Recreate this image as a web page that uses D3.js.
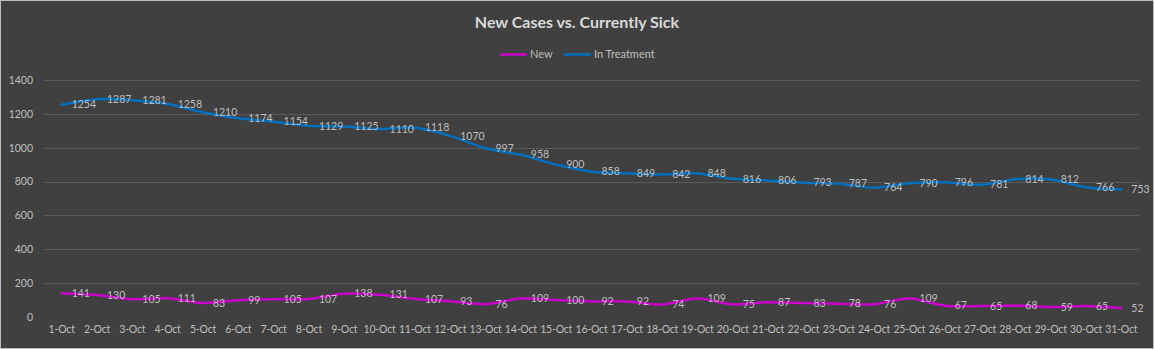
<!DOCTYPE html>
<html>
<head>
<meta charset="utf-8">
<script src="https://cdn.jsdelivr.net/npm/d3@7"></script>
<style>
  html, body { margin: 0; padding: 0; background: #404040; }
  svg { display: block; }
  text { font-family: Lato, "Liberation Sans", sans-serif; }
</style>
</head>
<body>
<svg id="chart" width="1154" height="349"></svg>
<script>
const categories = ["1-Oct","2-Oct","3-Oct","4-Oct","5-Oct","6-Oct","7-Oct","8-Oct","9-Oct","10-Oct","11-Oct","12-Oct","13-Oct","14-Oct","15-Oct","16-Oct","17-Oct","18-Oct","19-Oct","20-Oct","21-Oct","22-Oct","23-Oct","24-Oct","25-Oct","26-Oct","27-Oct","28-Oct","29-Oct","30-Oct","31-Oct"];
const newCases = [141,130,105,111,83,99,105,107,138,131,107,93,76,109,100,92,92,74,109,75,87,83,78,76,109,67,65,68,59,65,52];
const inTreatment = [1254,1287,1281,1258,1210,1174,1154,1129,1125,1110,1118,1070,997,958,900,858,849,842,848,816,806,793,787,764,790,796,781,814,812,766,753];
const yTicks = [0,200,400,600,800,1000,1200,1400];
const seriesNames = ["New","In Treatment"];
const seriesColors = ["#cc00cc","#0070c0"];
const title = "New Cases vs. Currently Sick";

const W = 1154, H = 349;
const plot = {left: 44, right: 1139, top: 80, bottom: 317};
const FONT = "Lato, 'Liberation Sans', sans-serif";

const svg = d3.select("#chart");
svg.append("rect").attr("x",0.5).attr("y",0.5).attr("width",W-1).attr("height",H-1)
  .attr("fill","#404040").attr("stroke","#bdbdbd").attr("stroke-width",1);

const x = d3.scaleBand().domain(categories).range([plot.left, plot.right]).padding(0);
const y = d3.scaleLinear().domain([0,1400]).range([plot.bottom, plot.top]);
const cx = d => x(d) + x.bandwidth()/2;

// gridlines (no line at 0)
svg.append("g").selectAll("line").data(yTicks.filter(t => t > 0)).join("line")
  .attr("x1", plot.left).attr("x2", plot.right)
  .attr("y1", d => Math.round(y(d)) + 0.5).attr("y2", d => Math.round(y(d)) + 0.5)
  .attr("stroke", "#595959").attr("stroke-width", 1);

// y axis
const yAxis = d3.axisLeft(y).tickValues(yTicks).tickFormat(d3.format("d")).tickSize(0).tickPadding(0);
const gy = svg.append("g").attr("transform", `translate(${plot.left - 11},0)`).call(yAxis);
gy.select(".domain").remove();
gy.selectAll("text").attr("fill","#bfbfbf").style("font-size","10.5px").style("font-family",FONT);

// x axis
const xAxis = d3.axisBottom(x).tickSize(0).tickPadding(0);
const gx = svg.append("g").attr("transform", `translate(0,${plot.bottom + 9})`).call(xAxis);
gx.select(".domain").remove();
gx.selectAll("text").attr("fill","#bfbfbf").style("font-size","10.5px").style("font-family",FONT)
  .style("letter-spacing","-0.2px");

const line = d3.line().x((d,i) => cx(categories[i])).y(d => y(d)).curve(d3.curveCardinal.tension(0));

[newCases, inTreatment].forEach((vals, si) => {
  svg.append("path").datum(vals).attr("d", line)
    .attr("fill","none").attr("stroke", seriesColors[si]).attr("stroke-width", 2.5)
    .attr("stroke-linejoin","round").attr("stroke-linecap","round");
  svg.append("g").selectAll("text").data(vals).join("text")
    .attr("x", (d,i) => cx(categories[i]) + 10)
    .attr("y", d => y(d))
    .attr("dy","0.35em")
    .attr("fill","#bfbfbf").style("font-size","10.5px")
    .text(d => d);
});

// title
svg.append("text").attr("x", 577).attr("y", 28).attr("text-anchor","middle")
  .attr("fill","#d9d9d9").style("font-size","16px").style("font-weight","bold").text(title);

// legend
const legendItems = [{x: 500, name: seriesNames[0], c: seriesColors[0]}, {x: 564, name: seriesNames[1], c: seriesColors[1]}];
const lg = svg.append("g");
legendItems.forEach(it => {
  lg.append("line").attr("x1", it.x).attr("x2", it.x + 27).attr("y1", 54.5).attr("y2", 54.5)
    .attr("stroke", it.c).attr("stroke-width", 2.5);
  lg.append("text").attr("x", it.x + 30).attr("y", 54).attr("dy","0.35em")
    .attr("fill","#bfbfbf").style("font-size","11px").text(it.name);
});
</script>
</body>
</html>
